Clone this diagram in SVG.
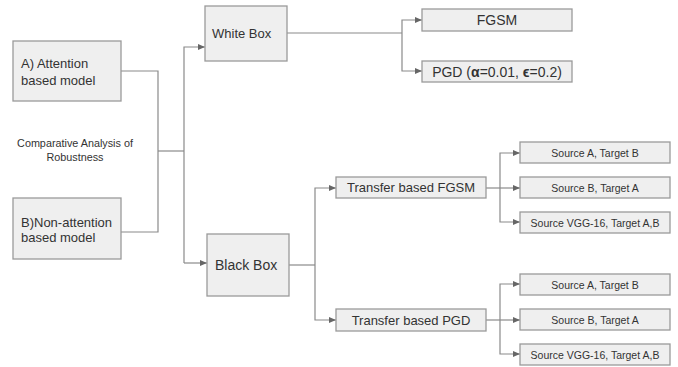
<svg xmlns="http://www.w3.org/2000/svg" width="678" height="367" viewBox="0 0 678 367">
<defs>
<marker id="arr" markerWidth="8" markerHeight="6" refX="7" refY="3" orient="auto" markerUnits="userSpaceOnUse">
<path d="M0,0 L7,3 L0,6 Z" fill="#666"/>
</marker>
<style>
.box{fill:#efefef;stroke:#9a9a9a;stroke-width:1.3}
.ln{fill:none;stroke:#8a8a8a;stroke-width:1.2}
.ar{marker-end:url(#arr)}
text{font-family:"Liberation Sans",Arial,sans-serif;fill:#333}
.c{text-anchor:middle}
</style>
</defs>
<rect width="678" height="367" fill="#fff"/>
<g id="connectors">
<path class="ln" d="M121,71 H158 V232 H121"/>
<path class="ln" d="M158,151 H184"/>
<path class="ln ar" d="M184,263 V47 H205"/>
<path class="ln ar" d="M184,263 H207"/>
<path class="ln" d="M287,33 H402"/>
<path class="ln ar" d="M402,33 V20 H422"/>
<path class="ln ar" d="M402,33 V71 H422"/>
<path class="ln" d="M289,265 H315"/>
<path class="ln ar" d="M315,265 V188 H336"/>
<path class="ln ar" d="M315,265 V320 H336"/>
<path class="ln" d="M486,188 H500"/>
<path class="ln ar" d="M500,188 V153 H520"/>
<path class="ln ar" d="M500,188 H520"/>
<path class="ln ar" d="M500,188 V222 H520"/>
<path class="ln" d="M486,320 H500"/>
<path class="ln ar" d="M500,320 V284 H520"/>
<path class="ln ar" d="M500,320 H520"/>
<path class="ln ar" d="M500,320 V354 H520"/>
</g>
<g id="nodeA"><rect class="box" x="13" y="41" width="108" height="60"/><text x="21" y="68" font-size="13">A) Attention</text><text x="21" y="85" font-size="13">based model</text></g>
<g id="nodeB"><rect class="box" x="13" y="198" width="108" height="61"/><text x="21" y="227" font-size="13">B)Non-attention</text><text x="21" y="242" font-size="13">based model</text></g>
<g id="title"><text class="c" x="75" y="147" font-size="10.8">Comparative Analysis of</text><text class="c" x="75" y="161" font-size="10.8">Robustness</text></g>
<g id="whitebox"><rect class="box" x="205" y="6" width="82" height="55"/><text x="212" y="38" font-size="13">White Box</text></g>
<g id="blackbox"><rect class="box" x="207" y="234" width="82" height="62"/><text x="215" y="270" font-size="14">Black Box</text></g>
<g id="fgsm"><rect class="box" x="422" y="9" width="150" height="22"/><text class="c" x="497" y="25" font-size="14">FGSM</text></g>
<g id="pgd"><rect class="box" x="422" y="61" width="150" height="21"/><text class="c" x="497" y="76.5" font-size="14">PGD (<tspan font-weight="bold">α</tspan>=0.01, <tspan font-weight="bold">ϵ</tspan>=0.2)</text></g>
<g id="tfgsm"><rect class="box" x="336" y="177" width="150" height="21"/><text class="c" x="411" y="192" font-size="13">Transfer based FGSM</text></g>
<g id="tpgd"><rect class="box" x="336" y="309" width="150" height="22"/><text class="c" x="411" y="325" font-size="13">Transfer based PGD</text></g>
<g id="f1"><rect class="box" x="520" y="142" width="150" height="21"/><text class="c" x="595" y="156.5" font-size="10.5">Source A, Target B</text></g>
<g id="f2"><rect class="box" x="520" y="177" width="150" height="21"/><text class="c" x="595" y="191.5" font-size="10.5">Source B, Target A</text></g>
<g id="f3"><rect class="box" x="520" y="212" width="150" height="21"/><text class="c" x="595" y="226.5" font-size="10.5">Source VGG-16, Target A,B</text></g>
<g id="p1"><rect class="box" x="520" y="274" width="150" height="21"/><text class="c" x="595" y="288.5" font-size="10.5">Source A, Target B</text></g>
<g id="p2"><rect class="box" x="520" y="309" width="150" height="21"/><text class="c" x="595" y="323.5" font-size="10.5">Source B, Target A</text></g>
<g id="p3"><rect class="box" x="520" y="344" width="150" height="21"/><text class="c" x="595" y="358.5" font-size="10.5">Source VGG-16, Target A,B</text></g>
</svg>
